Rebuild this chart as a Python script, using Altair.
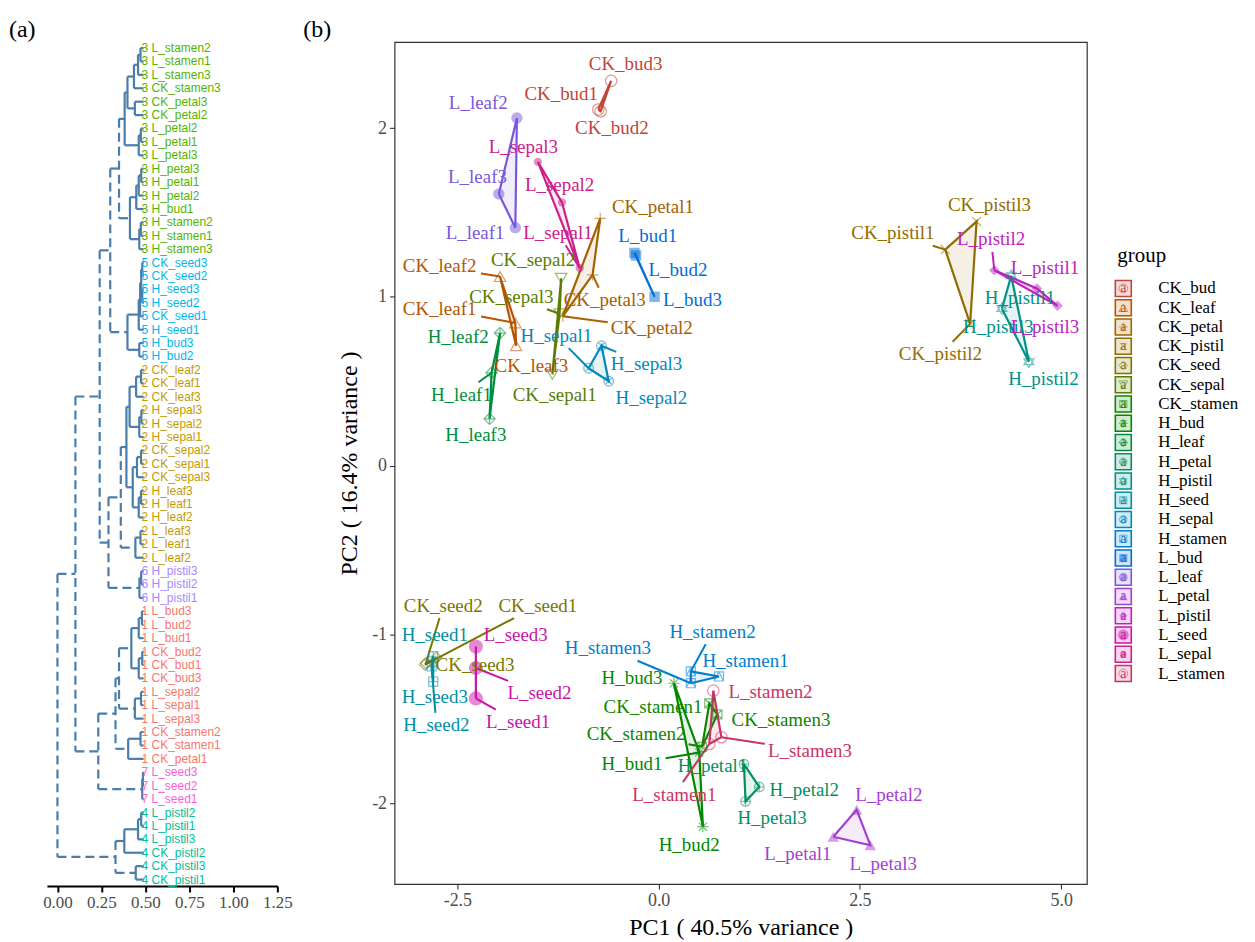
import math
import altair as alt
import pandas as pd

SERIF = "Liberation Serif"
SANS = "Liberation Sans"

# ---------------- panel (a): dendrogram data ----------------
leaf_names = [
    "L_stamen2", "L_stamen1", "L_stamen3", "CK_stamen3", "CK_petal3", "CK_petal2",
    "L_petal2", "L_petal1", "L_petal3", "H_petal3", "H_petal1", "H_petal2", "H_bud1",
    "H_stamen2", "H_stamen1", "H_stamen3",
    "CK_seed3", "CK_seed2", "H_seed3", "H_seed2", "CK_seed1", "H_seed1", "H_bud3", "H_bud2",
    "CK_leaf2", "CK_leaf1", "CK_leaf3", "H_sepal3", "H_sepal2", "H_sepal1", "CK_sepal2",
    "CK_sepal1", "CK_sepal3", "H_leaf3", "H_leaf1", "H_leaf2", "L_leaf3", "L_leaf1", "L_leaf2",
    "H_pistil3", "H_pistil2", "H_pistil1",
    "L_bud3", "L_bud2", "L_bud1", "CK_bud2", "CK_bud1", "CK_bud3", "L_sepal2", "L_sepal1",
    "L_sepal3", "CK_stamen2", "CK_stamen1", "CK_petal1",
    "L_seed3", "L_seed2", "L_seed1",
    "L_pistil2", "L_pistil1", "L_pistil3", "CK_pistil2", "CK_pistil3", "CK_pistil1",
]
leaf_cluster = [3] * 16 + [5] * 8 + [2] * 15 + [6] * 3 + [1] * 12 + [7] * 3 + [4] * 6
cluster_colors = ["#F8766D", "#C49A00", "#53B400", "#00C094", "#00B6EB", "#A58AFF", "#FB61D7"]

# merge table: (node id, child a, child b, merge position on the x axis)
merges = [
    ("m1", "L_stamen2", "L_stamen1", 0.472), ("m2", "m1", "L_stamen3", 0.458),
    ("m3", "m2", "CK_stamen3", 0.435), ("m4", "CK_petal3", "CK_petal2", 0.440),
    ("m5", "m3", "m4", 0.398), ("m6", "L_petal2", "L_petal1", 0.474),
    ("m7", "m6", "L_petal3", 0.462), ("m8", "m5", "m7", 0.382),
    ("m9", "H_petal3", "H_petal1", 0.476), ("m10", "m9", "H_petal2", 0.462),
    ("m11", "m10", "H_bud1", 0.448), ("m12", "H_stamen2", "H_stamen1", 0.474),
    ("m13", "m12", "H_stamen3", 0.465), ("m14", "m11", "m13", 0.412),
    ("c3", "m8", "m14", 0.350),
    ("m15", "CK_seed3", "CK_seed2", 0.482), ("m16", "H_seed3", "H_seed2", 0.482),
    ("m17", "m15", "m16", 0.476), ("m18", "m17", "CK_seed1", 0.470),
    ("m19", "m18", "H_seed1", 0.462), ("m20", "H_bud3", "H_bud2", 0.465),
    ("c5", "m19", "m20", 0.398), ("m21", "c3", "c5", 0.300),
    ("m22", "CK_leaf2", "CK_leaf1", 0.475), ("m23", "m22", "CK_leaf3", 0.447),
    ("m24", "H_sepal3", "H_sepal2", 0.477), ("m25", "m24", "H_sepal1", 0.465),
    ("m26", "m23", "m25", 0.410), ("m27", "CK_sepal2", "CK_sepal1", 0.475),
    ("m28", "m27", "CK_sepal3", 0.452), ("m29", "H_leaf3", "H_leaf1", 0.475),
    ("m30", "m29", "H_leaf2", 0.462), ("m31", "m28", "m30", 0.428),
    ("m32", "m26", "m31", 0.392), ("m33", "L_leaf3", "L_leaf1", 0.472),
    ("m34", "m33", "L_leaf2", 0.443), ("c2", "m32", "m34", 0.360),
    ("m35", "H_pistil3", "H_pistil2", 0.476), ("c6", "m35", "H_pistil1", 0.466),
    ("m36", "c2", "c6", 0.290), ("m37", "m21", "m36", 0.240),
    ("m38", "L_bud3", "L_bud2", 0.480), ("m39", "m38", "L_bud1", 0.462),
    ("m40", "CK_bud2", "CK_bud1", 0.482), ("m41", "m40", "CK_bud3", 0.462),
    ("m42", "m39", "m41", 0.420), ("m43", "L_sepal2", "L_sepal1", 0.475),
    ("m44", "m43", "L_sepal3", 0.440), ("m45", "m42", "m44", 0.350),
    ("m46", "CK_stamen2", "CK_stamen1", 0.472), ("m47", "m46", "CK_petal1", 0.402),
    ("c1", "m45", "m47", 0.330), ("m48", "L_seed3", "L_seed2", 0.486),
    ("c7", "m48", "L_seed1", 0.482), ("m49", "c1", "c7", 0.232),
    ("m50", "m37", "m49", 0.102),
    ("m51", "L_pistil2", "L_pistil1", 0.476), ("m52", "m51", "L_pistil3", 0.458),
    ("m53", "m52", "CK_pistil2", 0.380), ("m54", "CK_pistil3", "CK_pistil1", 0.445),
    ("c4", "m53", "m54", 0.330), ("root", "m50", "c4", 0.000),
]
leaf_x = 0.49
cut_x = 0.365
dend_ticks = [0.0, 0.25, 0.5, 0.75, 1.0, 1.25]

# ---------------- panel (b): PCA data ----------------
groups = ["CK_bud", "CK_leaf", "CK_petal", "CK_pistil", "CK_seed", "CK_sepal", "CK_stamen",
          "H_bud", "H_leaf", "H_petal", "H_pistil", "H_seed", "H_sepal", "H_stamen",
          "L_bud", "L_leaf", "L_petal", "L_pistil", "L_seed", "L_sepal", "L_stamen"]
pc1 = [-0.75, -0.72, -0.59, -1.78, -1.97, -1.77, -0.725, -1.19, -0.82,
       3.56, 3.87, 3.95, -2.90, -2.89, -2.76, -1.32, -1.21, -1.23,
       0.63, 0.54, 0.73, 0.505, 0.55, 0.19, -2.075, -1.97, -2.10,
       1.06, 1.25, 1.08, 4.38, 4.60, 4.265, -2.80, -2.82, -2.80,
       -0.87, -0.62, -0.71, 0.75, 0.40, 0.40, -0.30, -0.28, -0.05,
       -1.78, -1.76, -1.985, 2.17, 2.46, 2.63, 4.70, 4.17, 4.955,
       -2.27, -2.27, -2.27, -0.98, -1.20, -1.50, 0.63, 0.68, 0.78]
pc2 = [2.11, 2.10, 2.28, 0.845, 1.12, 0.71, 1.465, 0.885, 1.13,
       1.28, 0.84, 1.447, -1.18, -1.17, -1.14, 0.54, 1.11, 0.90,
       -1.41, -1.667, -1.475, -1.70, -2.14, -1.29, 0.55, 0.785, 0.277,
       -1.77, -1.905, -1.99, 1.125, 0.615, 0.93, -1.13, -1.19, -1.28,
       0.577, 0.50, 0.71, -1.25, -1.22, -1.29, 1.26, 1.245, 1.00,
       1.41, 2.06, 1.61, -2.20, -2.04, -2.25, 1.05, 1.158, 0.947,
       -1.38, -1.20, -1.073, 1.17, 1.56, 1.80, -1.65, -1.334, -1.61]
label_x = [-1.21, -0.58, -0.41, -2.72, -2.72, -1.58, -0.07, -0.085, -0.67,
           2.91, 3.50, 4.11, -1.50, -2.675, -2.28, -1.29, -1.56, -1.83,
           -0.07, -0.28, 1.52, -0.33, 0.38, -0.33, -2.45, -2.49, -2.27,
           0.67, 1.81, 1.41, 4.49, 4.78, 4.22, -2.78, -2.76, -2.78,
           -1.27, -0.09, -0.15, 1.08, 0.67, -0.63, -0.135, 0.24, 0.42,
           -2.28, -2.24, -2.25, 1.73, 2.86, 2.79, 4.80, 4.13, 4.80,
           -1.745, -1.48, -1.775, -1.25, -1.23, -1.68, 0.195, 1.39, 1.88]
label_y = [2.20, 2.00, 2.38, 0.93, 1.18, 0.59, 1.535, 0.815, 0.98,
           1.377, 0.66, 1.545, -0.83, -0.83, -1.185, 0.42, 1.22, 1.00,
           -1.43, -1.59, -1.51, -1.77, -2.25, -1.26, 0.42, 0.76, 0.18,
           -1.78, -1.925, -2.09, 0.995, 0.51, 0.82, -1.005, -1.54, -1.37,
           0.77, 0.40, 0.60, -1.16, -0.985, -1.083, 1.36, 1.16, 0.98,
           1.38, 2.15, 1.71, -2.305, -1.95, -2.36, 1.17, 1.34, 0.82,
           -1.52, -1.35, -1.005, 1.38, 1.66, 1.89, -1.95, -1.34, -1.69]
x_ticks = [-2.5, 0.0, 2.5, 5.0]
y_ticks = [-2, -1, 0, 1, 2]

# ---------------- colours / shapes ----------------
def hcl_hex(h, c, l):
    hr = math.radians(h)
    u, v = c * math.cos(hr), c * math.sin(hr)
    Xn, Yn, Zn = 95.047, 100.0, 108.883
    den = Xn + 15 * Yn + 3 * Zn
    un, vn = 4 * Xn / den, 9 * Yn / den
    Y = Yn * ((l + 16) / 116) ** 3 if l > 8 else Yn * l / 903.3
    up, vp = u / (13 * l) + un, v / (13 * l) + vn
    X = Y * 9 * up / (4 * vp)
    Z = Y * (12 - 3 * up - 20 * vp) / (4 * vp)
    X, Y, Z = X / 100, Y / 100, Z / 100
    r = 3.2404542 * X - 1.5371385 * Y - 0.4985314 * Z
    g = -0.9692660 * X + 1.8760108 * Y + 0.0415560 * Z
    b = 0.0556434 * X - 0.2040259 * Y + 1.0572252 * Z

    def gam(t):
        t = max(0.0, min(1.0, t))
        return 12.92 * t if t <= 0.0031308 else 1.055 * t ** (1 / 2.4) - 0.055
    return "#%02x%02x%02x" % tuple(int(round(gam(t) * 255)) for t in (r, g, b))


n_g = len(groups)
group_colors = [hcl_hex(15 + 360 * i / n_g, 100, 47) for i in range(n_g)]
cscale = alt.Scale(domain=groups, range=group_colors)

CIRC = "M-0.85,0A0.85,0.85 0 1,0 0.85,0A0.85,0.85 0 1,0 -0.85,0Z"
SQ = "M-0.8,-0.8L0.8,-0.8L0.8,0.8L-0.8,0.8Z"
shape_paths = [
    "circle", "triangle-up", "M-1,0L1,0M0,-1L0,1",
    "M-0.8,-0.8L0.8,0.8M-0.8,0.8L0.8,-0.8", "M0,-1L1,0L0,1L-1,0Z", "triangle-down",
    SQ + "M-0.8,-0.8L0.8,0.8M-0.8,0.8L0.8,-0.8",
    "M-1,0L1,0M0,-1L0,1M-0.72,-0.72L0.72,0.72M-0.72,0.72L0.72,-0.72",
    "M0,-1L1,0L0,1L-1,0ZM-1,0L1,0M0,-1L0,1",
    CIRC + "M-0.85,0L0.85,0M0,-0.85L0,0.85",
    "M0,-1L0.87,0.5L-0.87,0.5ZM0,1L0.87,-0.5L-0.87,-0.5Z",
    SQ + "M-0.8,0L0.8,0M0,-0.8L0,0.8",
    CIRC + "M-0.6,-0.6L0.6,0.6M-0.6,0.6L0.6,-0.6",
    SQ + "M-0.8,0.8L0,-0.8L0.8,0.8",
    "square", "circle", "triangle-up", "diamond", "circle", "circle", "circle",
]
sscale = alt.Scale(domain=groups, range=shape_paths)
filled_groups = ["L_bud", "L_leaf", "L_petal", "L_pistil", "L_seed", "L_sepal"]
size_of = {"L_seed": 200, "L_sepal": 70, "L_bud": 110, "L_pistil": 110}

# ---------------- build tables ----------------
pos = {n: (leaf_x, float(i)) for i, n in enumerate(leaf_names)}
seg_rows = []
for mid, a, b, h in merges:
    (xa, ya), (xb, yb) = pos[a], pos[b]
    kind = "dashed" if h < cut_x else "solid"
    seg_rows.append(dict(x=h, y=ya, x2=h, y2=yb, kind=kind))
    seg_rows.append(dict(x=h, y=ya, x2=xa, y2=ya, kind=kind))
    seg_rows.append(dict(x=h, y=yb, x2=xb, y2=yb, kind=kind))
    pos[mid] = (h, (ya + yb) / 2)
seg_df = pd.DataFrame(seg_rows)
leaf_df = pd.DataFrame({
    "row": list(range(len(leaf_names))),
    "label": [f"{c} {n}" for c, n in zip(leaf_cluster, leaf_names)],
    "cluster": [str(c) for c in leaf_cluster],
})

names = [f"{g}{k}" for g in groups for k in (1, 2, 3)]
pts = pd.DataFrame({"name": names, "group": [g for g in groups for _ in range(3)],
                    "pc1": pc1, "pc2": pc2, "lx": label_x, "ly": label_y})
pts["sz"] = [size_of.get(g, 130) for g in pts["group"]]


def convex_hull(p):
    p = sorted(set(p))
    if len(p) <= 2:
        return p

    def cross(o, a, b):
        return (a[0] - o[0]) * (b[1] - o[1]) - (a[1] - o[1]) * (b[0] - o[0])
    lo, up = [], []
    for q in p:
        while len(lo) >= 2 and cross(lo[-2], lo[-1], q) <= 0:
            lo.pop()
        lo.append(q)
    for q in reversed(p):
        while len(up) >= 2 and cross(up[-2], up[-1], q) <= 0:
            up.pop()
        up.append(q)
    return lo[:-1] + up[:-1]


hull_rows = []
for g in groups:
    sub = pts[pts.group == g]
    hp = convex_hull(list(zip(sub.pc1, sub.pc2)))
    hp = hp + [hp[0]]
    for k, (hx, hy) in enumerate(hp):
        hull_rows.append(dict(group=g, pc1=hx, pc2=hy, ord=k))
hull_df = pd.DataFrame(hull_rows)

# label leader segments (from label box edge to point)
XD = [-3.28, 5.32]
YD = [-2.48, 2.51]
W_B, H_B = 694, 844
kx = W_B / (XD[1] - XD[0])
ky = H_B / (YD[1] - YD[0])
LABEL_FS = 19
TW = {"C": .667, "K": .722, "H": .722, "L": .611, "_": .5, "l": .278, "e": .444, "a": .444,
      "t": .278, "i": .278, "s": .389, "m": .778, "r": .333, "c": .444}


def text_w(s):
    return sum(TW.get(ch, .5) for ch in s) * LABEL_FS


lead_rows = []
for r in pts.itertuples():
    dxp = (r.pc1 - r.lx) * kx
    dyp = (r.pc2 - r.ly) * ky
    hw = text_w(r.name) / 2 + 3
    hh = LABEL_FS / 2 + 3
    if abs(dxp) <= hw and abs(dyp) <= hh:
        continue
    t = min(hw / abs(dxp) if dxp else 1e9, hh / abs(dyp) if dyp else 1e9)
    gap = (1 - t) * math.hypot(dxp, dyp)
    if gap < 13:
        continue
    lead_rows.append(dict(group=r.group, x=r.lx + t * (r.pc1 - r.lx), y=r.ly + t * (r.pc2 - r.ly),
                          x2=r.pc1, y2=r.pc2))
lead_df = pd.DataFrame(lead_rows)

# ---------------- chart (a) ----------------
xs_a = alt.Scale(domain=[-0.06, 1.25], nice=False, zero=False)
ys_a = alt.Scale(domain=[-0.446, 62.48], reverse=True, nice=False, zero=False)
ax_a = alt.Axis(values=dend_ticks, format=".2f", title=None, grid=False, domain=True,
                domainColor="black", domainWidth=2.2, tickColor="black", tickWidth=2,
                tickSize=6, labelFont=SERIF, labelFontSize=17, labelColor="#4D4D4D",
                labelPadding=3, labelOverlap=False, labelFlush=False)

dend_enc = dict(x=alt.X("x:Q", scale=xs_a, axis=ax_a), y=alt.Y("y:Q", scale=ys_a, axis=None),
                x2="x2:Q", y2="y2:Q")
solid = alt.Chart(seg_df[seg_df.kind == "solid"]).mark_rule(
    color="#4A7DAA", strokeWidth=2.2).encode(**dend_enc)
dashed = alt.Chart(seg_df[seg_df.kind == "dashed"]).mark_rule(
    color="#4A7DAA", strokeWidth=2.2, strokeDash=[9, 5]).encode(**dend_enc)
leaf_text = alt.Chart(leaf_df).mark_text(
    align="left", baseline="middle", font=SANS, fontSize=12).encode(
    x=alt.datum(0.478), y=alt.Y("row:Q", scale=ys_a, axis=None), text="label:N",
    color=alt.Color("cluster:N", scale=alt.Scale(domain=[str(i) for i in range(1, 8)],
                                                  range=cluster_colors), legend=None))
tag_a = alt.Chart(pd.DataFrame({"t": ["(a)"]})).mark_text(
    align="left", baseline="middle", font=SERIF, fontSize=24, color="black").encode(
    x=alt.value(-38), y=alt.value(-12), text="t:N")
dend = alt.layer(solid, dashed, leaf_text, tag_a).properties(width=231, height=846)

# ---------------- chart (b) ----------------
xs_b = alt.Scale(domain=XD, nice=False, zero=False)
ys_b = alt.Scale(domain=YD, nice=False, zero=False)
ax_common = dict(grid=False, domain=False, tickColor="#333333", tickSize=5, tickWidth=1.1,
                 labelFont=SERIF, labelFontSize=18, labelColor="#4D4D4D", labelPadding=3,
                 titleFont=SERIF, titleFontSize=24, titleFontWeight="normal", titleColor="black")
ax_x = alt.Axis(values=x_ticks, title="PC1 ( 40.5% variance )", titlePadding=6,
                labelExpr="(datum.value < 0 ? '-' : '') + format(abs(datum.value), '.1f')",
                **ax_common)
ax_y = alt.Axis(values=y_ticks, title="PC2 ( 16.4% variance )", titlePadding=10,
                labelExpr="(datum.value < 0 ? '-' : '') + format(abs(datum.value), 'd')",
                **ax_common)
X = alt.X("pc1:Q", scale=xs_b, axis=ax_x)
Y = alt.Y("pc2:Q", scale=ys_b, axis=ax_y)
col = alt.Color("group:N", scale=cscale, legend=None)

hull_fill = alt.Chart(hull_df).mark_line(filled=True, fillOpacity=0.1, strokeWidth=0).encode(
    x=X, y=Y, color=col, order="ord:Q", detail="group:N")
hull_line = alt.Chart(hull_df).mark_line(strokeWidth=2.2).encode(
    x=X, y=Y, color=col, order="ord:Q", detail="group:N")
leads = alt.Chart(lead_df).mark_rule(strokeWidth=2).encode(
    x=alt.X("x:Q", scale=xs_b, axis=ax_x), y=alt.Y("y:Q", scale=ys_b, axis=ax_y),
    x2="x2:Q", y2="y2:Q", color=col)
open_pts = alt.Chart(pts[~pts.group.isin(filled_groups)]).mark_point(
    filled=False, opacity=0.55, strokeWidth=1.2).encode(
    x=X, y=Y, color=col, shape=alt.Shape("group:N", scale=sscale, legend=None),
    size=alt.Size("sz:Q", scale=None))
fill_pts = alt.Chart(pts[pts.group.isin(filled_groups)]).mark_point(
    filled=True, opacity=0.5).encode(
    x=X, y=Y, color=col, shape=alt.Shape("group:N", scale=sscale, legend=None),
    size=alt.Size("sz:Q", scale=None))
labels = alt.Chart(pts).mark_text(font=SERIF, fontSize=LABEL_FS, baseline="middle").encode(
    x=alt.X("lx:Q", scale=xs_b, axis=ax_x), y=alt.Y("ly:Q", scale=ys_b, axis=ax_y),
    text="name:N", color=col)
tag_b = alt.Chart(pd.DataFrame({"t": ["(b)"]})).mark_text(
    align="left", baseline="middle", font=SERIF, fontSize=24, color="black").encode(
    x=alt.value(-91.5), y=alt.value(-12), text="t:N")
pca = alt.layer(hull_fill, hull_line, leads, open_pts, fill_pts, labels, tag_b).properties(
    width=W_B, height=H_B, view=alt.ViewBackground(stroke="#333333", strokeWidth=1.2))

# ---------------- legend ----------------
leg_df = pd.DataFrame({"group": groups, "row": list(range(n_g))})
leg_df["sz"] = [int(size_of.get(g, 130) * 0.6) for g in groups]
xs_l = alt.Scale(domain=[106, 146], nice=False, zero=False)
ys_l = alt.Scale(domain=[-12.798, 30.933], reverse=True, nice=False, zero=False)
LY = alt.Y("row:Q", scale=ys_l, axis=None)
key_fill = alt.Chart(leg_df).mark_point(shape="square", size=256, filled=True, opacity=0.18).encode(
    x=alt.datum(25, scale=xs_l, axis=None), y=LY, color=col)
key_line = alt.Chart(leg_df).mark_point(shape="square", size=256, filled=False, opacity=1,
                                        strokeWidth=1.6).encode(
    x=alt.datum(25, scale=xs_l, axis=None), y=LY, color=col)
key_open = alt.Chart(leg_df[~leg_df.group.isin(filled_groups)]).mark_point(
    filled=False, opacity=0.55, strokeWidth=1).encode(
    x=alt.datum(25), y=LY, color=col,
    shape=alt.Shape("group:N", scale=sscale, legend=None), size=alt.Size("sz:Q", scale=None))
key_filled = alt.Chart(leg_df[leg_df.group.isin(filled_groups)]).mark_point(
    filled=True, opacity=0.5).encode(
    x=alt.datum(25), y=LY, color=col,
    shape=alt.Shape("group:N", scale=sscale, legend=None), size=alt.Size("sz:Q", scale=None))
key_a = alt.Chart(leg_df).mark_text(text="a", font=SERIF, fontSize=14, baseline="middle").encode(
    x=alt.datum(25), y=LY, color=col)
key_lab = alt.Chart(leg_df).mark_text(align="left", baseline="middle", font=SERIF,
                                      fontSize=17, color="black").encode(
    x=alt.datum(60), y=LY, text="group:N")
leg_title = alt.Chart(pd.DataFrame({"t": ["group"], "row": [-1.66]})).mark_text(
    align="left", baseline="middle", font=SERIF, fontSize=21, color="black").encode(
    x=alt.datum(19), y=LY, text="t:N")
legend = alt.layer(key_fill, key_line, key_open, key_filled, key_a, key_lab, leg_title).properties(
    width=40, height=844)

chart = alt.hconcat(dend, pca, legend, spacing=117.5, bounds="flush").resolve_scale(
    color="independent"
).properties(
    padding={"left": 0, "top": 8, "right": 2, "bottom": 2}
).configure_view(stroke="transparent")

chart.save("out.html", embed_options={"renderer": "svg", "actions": False})
